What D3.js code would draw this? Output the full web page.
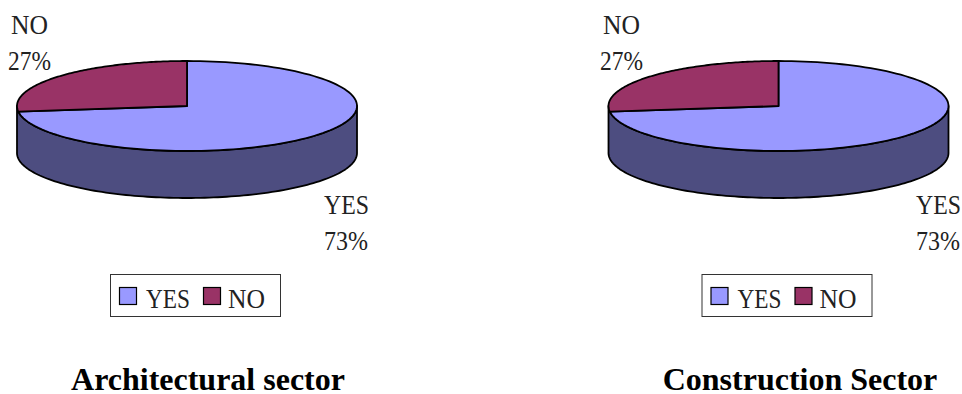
<!DOCTYPE html>
<html><head><meta charset="utf-8">
<script src="https://cdn.jsdelivr.net/npm/d3@7"></script>
<style>
html,body{margin:0;padding:0;background:#fff}
svg{display:block}
text{font-family:"Liberation Serif",serif;fill:#222}
</style></head><body>
<svg id="c" width="962" height="394"></svg>
<script>
const categories = ["YES", "NO"];
const architecturalValues = [73, 27];
const constructionValues = [73, 27];
const chartTitles = ["Architectural sector", "Construction Sector"];

const colour = d3.scaleOrdinal().domain(categories).range(["#9999FF", "#993366"]);
const wallColour = "#4D4D80";
const svg = d3.select("#c");

// Condensed serif label: tall glyphs squeezed horizontally to a target width
function condensed(g, t, lx, ly, w) {
  const el = g.append("text").attr("font-size", 27).text(t);
  const sx = w / el.node().getComputedTextLength();
  el.attr("transform", `translate(${lx},${ly}) scale(${sx},1)`);
  return el;
}

function drawPanel(values, title, p) {
  const g = svg.append("g");
  const x = d3.scaleLinear().domain([-1, 1]).range([p.left, p.left + 340]);
  const y = d3.scaleLinear().domain([-1, 1]).range([61, 151]);
  const depth = 47;
  const pie = d3.pie().sort(null).value(d => d)(values);
  const pt = a => [x(Math.sin(a)), y(-Math.cos(a))];
  const line = d3.line();
  const arcPts = (a0, a1) => d3.range(0, 121).map(i => pt(a0 + (a1 - a0) * i / 120));

  const front = arcPts(Math.PI / 2, 3 * Math.PI / 2);
  const lower = front.map(([a, b]) => [a, b + depth]).reverse();
  g.append("path").attr("d", line(front.concat(lower)) + "Z")
    .attr("fill", wallColour).attr("stroke", "#000").attr("stroke-width", 1.8)
    .attr("stroke-linejoin", "round");

  g.selectAll("path.slice").data(pie).join("path").attr("class", "slice")
    .attr("d", d => line([[x(0), y(0)], ...arcPts(d.startAngle, d.endAngle)]) + "Z")
    .attr("fill", (d, i) => colour(categories[i]))
    .attr("stroke", "#000").attr("stroke-width", 1.8).attr("stroke-linejoin", "round");

  condensed(g, categories[1], p.text + 11, 34, 37);
  condensed(g, values[1] + "%", p.text + 8, 70, 43);
  condensed(g, categories[0], p.text + 324, 214, 45);
  condensed(g, values[0] + "%", p.text + 324, 250, 44);

  g.append("rect").attr("x", p.left + 93.5).attr("y", 274.5).attr("width", 170).attr("height", 42)
    .attr("fill", "#fff").attr("stroke", "#333").attr("stroke-width", 1);
  const sw = [p.left + 102.5, p.left + 186.5];
  const tx = [p.left + 129, p.left + 211];
  const tw = [44, 37];
  categories.forEach((c, i) => {
    g.append("rect").attr("x", sw[i]).attr("y", 287.5).attr("width", 17).attr("height", 17)
      .attr("fill", colour(c)).attr("stroke", "#000").attr("stroke-width", 1.2);
    condensed(g, c, tx[i], 308, tw[i]);
  });

  g.append("text").attr("x", p.title).attr("y", 390).attr("text-anchor", "middle")
    .attr("font-size", 32).attr("font-weight", "bold").style("fill", "#000").text(title);
}

drawPanel(architecturalValues, chartTitles[0], {left: 17, text: 0, title: 208});
drawPanel(constructionValues, chartTitles[1], {left: 608.5, text: 592, title: 800});
</script>
</body></html>
